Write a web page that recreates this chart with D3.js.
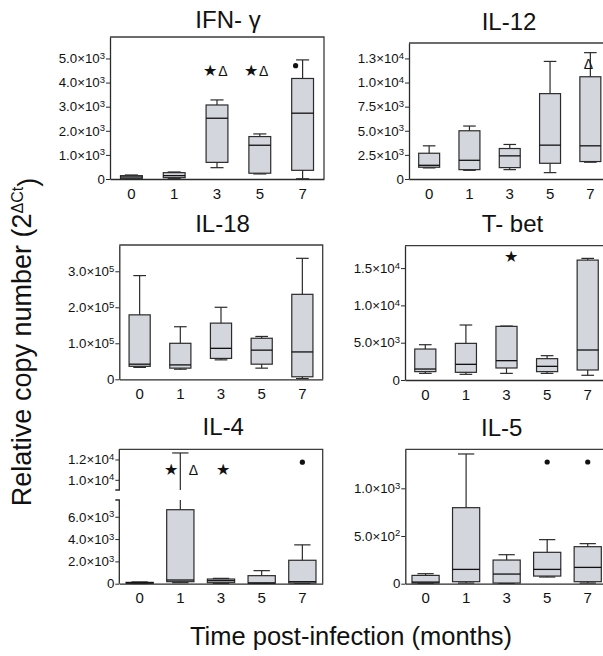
<!DOCTYPE html>
<html><head><meta charset="utf-8">
<script src="https://cdn.jsdelivr.net/npm/d3@7"></script>
<style>body{margin:0;background:#fff} text{font-family:"Liberation Sans",Arial,sans-serif;fill:#111}</style>
</head><body><svg id="c" width="603" height="656"></svg>
<script>
const categories = ["0","1","3","5","7"];

// IFN-γ
const ifnMin = [0, 14, 470, 210, 10];
const ifnQ1  = [14, 55, 690, 240, 360];
const ifnMed = [83, 139, 2520, 1400, 2730];
const ifnQ3  = [139, 263, 3070, 1760, 4170];
const ifnMax = [166, 291, 3280, 1870, 4940];
const ifnTicks = [0, 1000, 2000, 3000, 4000, 5000];
const ifnTickLabels = ["0", "1.0×10^3", "2.0×10^3", "3.0×10^3", "4.0×10^3", "5.0×10^3"];

// IL-12
const il12Min = [1150, 900, 970, 660, 1740];
const il12Q1  = [1220, 970, 1180, 1630, 1810];
const il12Med = [1420, 1940, 2400, 3510, 3440];
const il12Q3  = [2670, 5000, 3160, 8850, 10600];
const il12Max = [3440, 5490, 3580, 12190, 13100];
const il12Ticks = [0, 2500, 5000, 7500, 10000, 12500];
const il12TickLabels = ["0", "2.5×10^3", "5.0×10^3", "7.5×10^3", "1.0×10^4", "1.3×10^4"];

// IL-18
const il18Min = [33000, 28000, 54000, 31000, 2000];
const il18Q1  = [36000, 31000, 58000, 42000, 7000];
const il18Med = [42000, 40000, 86000, 81000, 76000];
const il18Q3  = [179000, 100000, 156000, 114000, 236000];
const il18Max = [288000, 146000, 200000, 119000, 336000];
const il18Ticks = [0, 100000, 200000, 300000];
const il18TickLabels = ["0", "1.0×10^5", "2.0×10^5", "3.0×10^5"];

// T-bet
const tbetMin = [890, 760, 890, 890, 630];
const tbetQ1  = [1120, 1030, 1610, 1120, 1340];
const tbetMed = [1470, 2100, 2590, 1830, 4020];
const tbetQ3  = [4150, 4910, 7190, 2860, 16070];
const tbetMax = [4730, 7370, 7230, 3260, 16300];
const tbetTicks = [0, 5000, 10000, 15000];
const tbetTickLabels = ["0", "5.0×10^3", "1.0×10^4", "1.5×10^4"];

// IL-4
const il4Min = [20, 90, 30, 30, 30];
const il4Q1  = [40, 180, 90, 40, 60];
const il4Med = [80, 330, 270, 70, 180];
const il4Q3  = [120, 6630, 420, 720, 2100];
const il4Max = [160, 12640, 480, 1170, 3480];
const il4Ticks = [0, 2000, 4000, 6000, 10000, 12000];
const il4TickLabels = ["0", "2.0×10^3", "4.0×10^3", "6.0×10^3", "1.0×10^4", "1.2×10^4"];

// IL-5
const il5Min = [3, 7, 3, 70, 7];
const il5Q1  = [7, 21, 7, 80, 21];
const il5Med = [17, 150, 101, 150, 171];
const il5Q3  = [87, 797, 248, 329, 388];
const il5Max = [105, 1360, 304, 462, 420];
const il5Ticks = [0, 500, 1000];
const il5TickLabels = ["0", "5.0×10^2", "1.0×10^3"];

// significance marks: category, value (height), symbol
const ifnNoteCats = ["3", "3", "5", "5", "7"];
const ifnNoteVals = [4490, 4460, 4490, 4460, 4700];
const ifnNoteSyms = ["★", "Δ", "★", "Δ", "•"];
const il12NoteCats = ["7"];
const il12NoteVals = [11950];
const il12NoteSyms = ["Δ"];
const tbetNoteCats = ["3"];
const tbetNoteVals = [16600];
const tbetNoteSyms = ["★"];
const il4NoteCats = ["1", "1", "3", "7"];
const il4NoteVals = [11060, 11000, 11060, 11730];
const il4NoteSyms = ["★", "Δ", "★", "•"];
const il5NoteCats = ["5", "7"];
const il5NoteVals = [1276, 1276];
const il5NoteSyms = ["•", "•"];

// layout
const panels = [
  {title:"IFN- γ", tx:228, ty:28, box:[110,37,324,179], segs:[[0,5890]], bw:0.51,
   s:[ifnMin,ifnQ1,ifnMed,ifnQ3,ifnMax], ticks:ifnTicks, labels:ifnTickLabels,
   notes:[ifnNoteCats,ifnNoteVals,ifnNoteSyms], ndx:[-7,6,-9,4,-7]},
  {title:"IL-12", tx:509, ty:30, box:[409,43,610.5,179], segs:[[0,14100]], bw:0.52,
   s:[il12Min,il12Q1,il12Med,il12Q3,il12Max], ticks:il12Ticks, labels:il12TickLabels,
   notes:[il12NoteCats,il12NoteVals,il12NoteSyms], ndx:[-2]},
  {title:"IL-18", tx:222.5, ty:231.5, box:[119.3,245,322.7,379.3], segs:[[0,373000]], bw:0.52,
   s:[il18Min,il18Q1,il18Med,il18Q3,il18Max], ticks:il18Ticks, labels:il18TickLabels,
   notes:[[],[],[]], ndx:[]},
  {title:"T- bet", tx:512.5, ty:232, box:[405,245.7,608,380], segs:[[0,18000]], bw:0.52,
   s:[tbetMin,tbetQ1,tbetMed,tbetQ3,tbetMax], ticks:tbetTicks, labels:tbetTickLabels,
   notes:[tbetNoteCats,tbetNoteVals,tbetNoteSyms], ndx:[4]},
  {title:"IL-4", tx:223.3, ty:435, box:[119.3,449.3,322.7,583.7], segs:[[0,7500],[9000,13000]], segRange:[[583.7,500],[490,449.3]], bw:0.67,
   s:[il4Min,il4Q1,il4Med,il4Q3,il4Max], ticks:il4Ticks, labels:il4TickLabels,
   notes:[il4NoteCats,il4NoteVals,il4NoteSyms], ndx:[-9,13,2,0]},
  {title:"IL-5", tx:501.7, ty:436, box:[405.3,449.3,608,583.7], segs:[[0,1409]], bw:0.67,
   s:[il5Min,il5Q1,il5Med,il5Q3,il5Max], ticks:il5Ticks, labels:il5TickLabels,
   notes:[il5NoteCats,il5NoteVals,il5NoteSyms], ndx:[0,0]}
];

const svg = d3.select("#c");
const dark = "#2b2b2b";

function drawPanel(p){
  const [L,T,R,B] = p.box;
  const g = svg.append("g");
  const x = d3.scaleBand().domain(categories).range([L,R]).padding(0);
  const cx = c => x(c) + x.bandwidth()/2;
  const bw = x.bandwidth()*p.bw;
  const ranges = p.segRange || [[B,T]];
  const scales = p.segs.map((d,i)=>d3.scaleLinear().domain(d).range(ranges[i]));
  const y = v => { for (const s of scales){ if (v <= s.domain()[1]) return s(v); } return scales[scales.length-1](v); };

  // frame top & right
  g.append("path").attr("d", `M${L},${T}H${R}V${B}`).attr("fill","none").attr("stroke","#3c3c3c").attr("stroke-width",1.3);

  // y axes (one per segment)
  const lab = new Map(p.ticks.map((t,i)=>[t,p.labels[i]]));
  scales.forEach((s,si)=>{
    const dom = s.domain();
    const tv = p.ticks.filter(t=>t>=dom[0] && t<=dom[1]);
    const ax = g.append("g").attr("transform",`translate(${L},0)`)
      .call(d3.axisLeft(s).tickValues(tv).tickSize(4).tickSizeOuter(scales.length>1?4:0).tickPadding(1).tickFormat(d=>lab.get(d)));
    ax.select(".domain").attr("stroke",dark).attr("stroke-width",1.3);
    if (scales.length>1 && si===scales.length-1){
      ax.select(".domain").attr("d", `M-4,${s.range()[0]}H0V${s.range()[1]}`);
    }
    if (scales.length>1 && si===0){
      ax.select(".domain").attr("d", `M-4,${s.range()[1]}H0V${s.range()[0]}`);
    }
    ax.selectAll(".tick line").attr("stroke",dark).attr("stroke-width",1);
    ax.selectAll(".tick text").each(function(d){
      const parts = lab.get(d).split("^");
      const t = d3.select(this).text(parts[0]).attr("font-size",13.3).attr("fill","#111").attr("font-family","Liberation Sans, Arial, sans-serif");
      if (parts[1]) t.append("tspan").attr("dy","-0.45em").attr("font-size",9.5).text(parts[1]);
    });
  });

  // x axis
  const xa = g.append("g").attr("transform",`translate(0,${B})`)
    .call(d3.axisBottom(x).tickSize(0).tickPadding(9));
  xa.select(".domain").attr("stroke",dark).attr("stroke-width",1.3);
  xa.selectAll(".tick text").attr("font-size",15).attr("fill","#111").attr("font-family","Liberation Sans, Arial, sans-serif");

  // boxes
  const [mn,q1,md,q3,mx] = p.s;
  categories.forEach((c,i)=>{
    const xc = cx(c);
    const cw = bw*0.6;
    scales.forEach(s=>{
      const d = s.domain();
      const lo = Math.max(mn[i], d[0]), hi = Math.min(mx[i], d[1]);
      if (lo < hi) g.append("line").attr("x1",xc).attr("x2",xc).attr("y1",s(lo)).attr("y2",s(hi)).attr("stroke",dark).attr("stroke-width",1.2);
    });
    g.append("line").attr("x1",xc-cw/2).attr("x2",xc+cw/2).attr("y1",y(mx[i])).attr("y2",y(mx[i])).attr("stroke",dark).attr("stroke-width",1.2);
    g.append("line").attr("x1",xc-cw/2).attr("x2",xc+cw/2).attr("y1",y(mn[i])).attr("y2",y(mn[i])).attr("stroke",dark).attr("stroke-width",1.2);
    g.append("rect").attr("x",xc-bw/2).attr("width",bw).attr("y",y(q3[i])).attr("height",Math.max(0.5,y(q1[i])-y(q3[i])))
      .attr("fill","#d3d6dd").attr("stroke",dark).attr("stroke-width",1.2);
    g.append("line").attr("x1",xc-bw/2).attr("x2",xc+bw/2).attr("y1",y(md[i])).attr("y2",y(md[i])).attr("stroke","#111").attr("stroke-width",1.3);
  });

  // notes
  const [nc,nv,ns] = p.notes;
  nc.forEach((c,i)=>{
    const xx = cx(c) + p.ndx[i], yy = y(nv[i]);
    if (ns[i]==="•") g.append("circle").attr("cx",xx).attr("cy",yy).attr("r",2.6).attr("fill","#111");
    else if (ns[i]==="★") g.append("text").attr("x",xx).attr("y",yy).attr("dy","0.35em").attr("text-anchor","middle")
      .attr("font-size",16).attr("font-family","DejaVu Sans").text("★");
    else g.append("text").attr("x",xx).attr("y",yy).attr("dy","0.35em").attr("text-anchor","middle")
      .attr("font-size",14).attr("font-family","Liberation Serif").attr("fill","#333").text("Δ");
  });

  // title
  svg.append("text").attr("x",p.tx).attr("y",p.ty).attr("text-anchor","middle").attr("font-size",24).text(p.title);
}
panels.forEach(drawPanel);

// axis titles
const yl = svg.append("text").attr("transform","translate(31,342) rotate(-90)").attr("text-anchor","middle").attr("font-size",27);
yl.append("tspan").text("Relative copy number (2");
yl.append("tspan").attr("dy","-0.5em").attr("font-size",16).text("ΔCt");
yl.append("tspan").attr("dy","0.5em").text(")");
svg.append("text").attr("x",351).attr("y",645).attr("text-anchor","middle").attr("font-size",25.5).text("Time post-infection (months)");
</script></body></html>
